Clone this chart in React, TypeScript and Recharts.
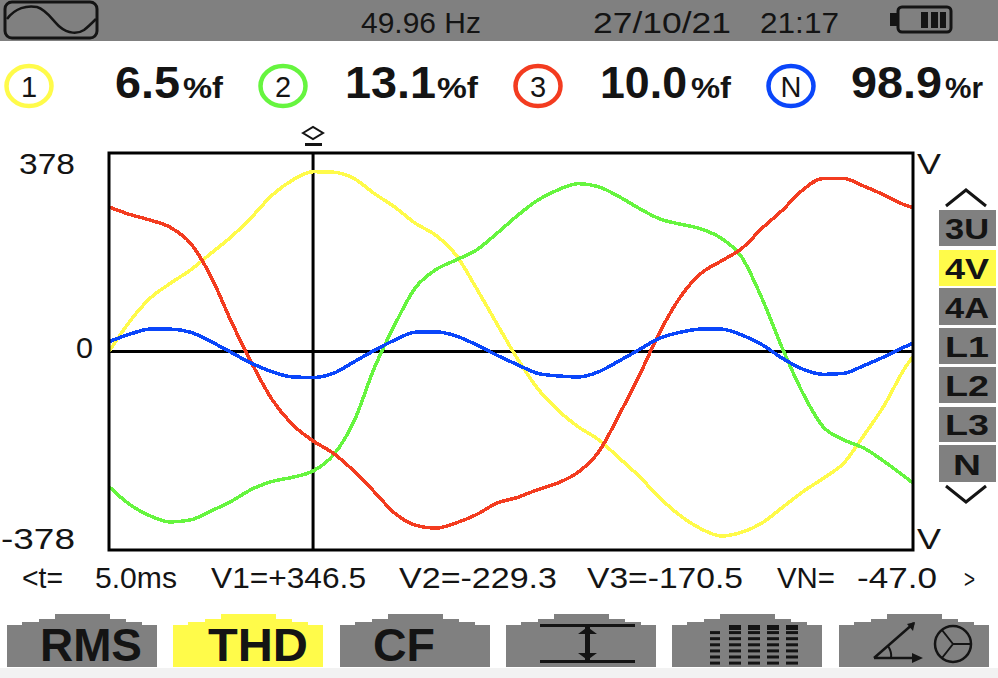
import { LineChart, Line, XAxis, YAxis, ReferenceLine } from 'recharts';

// time in ms, one reading every 0.5 ms across the 20 ms window
const times = [0, 0.5, 1, 1.5, 2, 2.5, 3, 3.5, 4, 4.5, 5, 5.5, 6, 6.5, 7, 7.5, 8, 8.5, 9, 9.5, 10, 10.5, 11, 11.5, 12, 12.5, 13, 13.5, 14, 14.5, 15, 15.5, 16, 16.5, 17, 17.5, 18, 18.5, 19, 19.5, 19.7];
const v1 = [0, 57, 102, 131, 157, 189, 221, 259, 301, 330, 346, 345, 333, 304, 278, 247, 224, 186, 122, 54, -13, -71, -113, -145, -170, -205, -241, -282, -316, -341, -355, -348, -330, -300, -270, -244, -215, -161, -103, -32, -10];
const v2 = [-260, -294, -316, -328, -324, -307, -288, -265, -250, -242, -230, -199, -135, -32, 51, 122, 157, 176, 195, 227, 261, 291, 311, 323, 317, 298, 275, 255, 245, 236, 218, 182, 102, 6, -80, -145, -170, -186, -212, -241, -253];
const v3 = [278, 264, 253, 239, 208, 144, 57, -23, -93, -141, -172, -196, -230, -270, -311, -334, -340, -330, -314, -292, -281, -266, -253, -232, -193, -122, -45, 38, 105, 150, 174, 198, 237, 272, 311, 333, 333, 318, 301, 282, 277];
const vn = [19, 33, 43, 43, 37, 19, -2, -23, -39, -49, -50, -42, -20, 2, 22, 37, 38, 30, 13, -7, -25, -42, -47, -49, -39, -18, 4, 26, 37, 43, 43, 32, 13, -13, -34, -44, -42, -27, -10, 9, 16];

const yTicks = [-378, 0, 378];
const sideLabels = ['3U', '4V', '4A', 'L1', 'L2', 'L3', 'N'];
const tabLabels = ['RMS', 'THD', 'CF'];

const data = times.map((t, i) => ({ t, v1: v1[i], v2: v2[i], v3: v3[i], vn: vn[i] }));

const GREY = '#808080';
const YELLOW = '#FFFB4A';
const GREEN = '#66F53F';
const RED = '#F33C20';
const BLUE = '#0A46FA';
const INK = '#141414';
const FONT = '"Liberation Sans", Arial, sans-serif';

const tickPlace: Record<number, { x: number; y: number; w: number }> = {
  378: { x: 19, y: 174, w: 56 },
  0: { x: 76, y: 358, w: 17 },
  [-378]: { x: 1, y: 549, w: 74 },
};

function VoltTick({ payload }: any) {
  const value = payload.value as number;
  const place = tickPlace[value];
  return (
    <text x={place.x} y={place.y} fontFamily={FONT} fontSize={30} fill={INK} textLength={place.w} lengthAdjust="spacingAndGlyphs">
      {value}
    </text>
  );
}

function Label({ x, y, w, size, bold, anchor, children }: any) {
  return (
    <text x={x} y={y} fontFamily={FONT} fontSize={size} fontWeight={bold ? 'bold' : 'normal'} fill={INK}
      textLength={w} lengthAdjust="spacingAndGlyphs" textAnchor={anchor}>
      {children}
    </text>
  );
}

function Reading({ cx, color, id, value, vx, vw, unit, ux, uw }: any) {
  return (
    <g>
      <ellipse cx={cx} cy={86} rx={22.5} ry={20} fill="#fff" stroke={color} strokeWidth={4.5} />
      <text x={cx} y={97} textAnchor="middle" fontFamily={FONT} fontSize={29} fill={INK}>{id}</text>
      <Label x={vx} y={98} w={vw} size={44} bold>{value}</Label>
      <Label x={ux} y={98} w={uw} size={30} bold>{unit}</Label>
    </g>
  );
}

function Tab({ x, fill, children }: any) {
  const pts = [[0, 53], [0, 11], [15, 11], [15, 8], [32, 8], [32, 5], [48, 5], [48, 0], [103, 0], [103, 5], [119, 5], [119, 8], [135, 8], [135, 11], [150, 11], [150, 53]];
  return (
    <g transform={`translate(${x} 614)`}>
      <polygon points={pts.map((p) => p.join(',')).join(' ')} fill={fill} />
      {children}
    </g>
  );
}

function Chrome() {
  const sideY = [[210, 246], [250, 286], [288, 325], [328, 364], [367, 403], [407, 442], [445, 482]];
  return (
    <svg width={998} height={678} style={{ position: 'absolute', left: 0, top: 0, pointerEvents: 'none' }}>
      {/* status bar */}
      <rect x={0} y={0} width={998} height={41} fill={GREY} />
      <rect x={5} y={2} width={92} height={36} rx={7} fill="none" stroke={INK} strokeWidth={3} />
      <path d="M7 19 C 15 8 27 5 37 7 C 47 10 52 20 60 27 C 68 34 78 34 84 30 C 88 27 92 23 96 19" fill="none" stroke={INK} strokeWidth={2.5} />
      <Label x={361} y={33} w={120} size={30}>49.96 Hz</Label>
      <Label x={593} y={33} w={138} size={30}>27/10/21</Label>
      <Label x={760} y={33} w={79} size={30}>21:17</Label>
      <rect x={898} y={7} width={53} height={25} rx={4} fill="none" stroke={INK} strokeWidth={3} />
      <rect x={890} y={13} width={7} height={13} fill={INK} />
      <rect x={921} y={12} width={7} height={16} fill={INK} />
      <rect x={931} y={12} width={7} height={16} fill={INK} />
      <rect x={940} y={12} width={6} height={16} fill={INK} />

      {/* channel readings */}
      <Reading cx={29} color={YELLOW} id="1" value="6.5" vx={115} vw={65} unit="%f" ux={183} uw={40} />
      <Reading cx={283} color={GREEN} id="2" value="13.1" vx={345} vw={91} unit="%f" ux={437} uw={41} />
      <Reading cx={538} color={RED} id="3" value="10.0" vx={600} vw={87} unit="%f" ux={691} uw={40} />
      <Reading cx={791} color={BLUE} id="N" value="98.9" vx={851} vw={91} unit="%r" ux={945} uw={38} />

      {/* cursor marker */}
      <path d="M303 133 L313 127 L323 133 L313 139 Z" fill="none" stroke={INK} strokeWidth={2} />
      <rect x={305} y={143} width={17} height={3} fill={INK} />

      {/* plot frame */}
      <rect x={109} y={153} width={804} height={397} fill="none" stroke="#000" strokeWidth={3} />
      <Label x={917} y={174} w={24} size={30}>V</Label>
      <Label x={917} y={549} w={24} size={30}>V</Label>

      {/* channel selector */}
      <path d="M946 206 L966 190 L986 206" fill="none" stroke={INK} strokeWidth={3} />
      <path d="M946 486 L966 502 L986 486" fill="none" stroke={INK} strokeWidth={3} />
      {sideLabels.map((label, i) => (
        <g key={label}>
          <rect x={939} y={sideY[i][0]} width={57} height={sideY[i][1] - sideY[i][0]} fill={label === '4V' ? YELLOW : GREY} />
          <text x={967} y={sideY[i][1] - 7} textAnchor="middle" fontFamily={FONT} fontWeight="bold" fontSize={30} fill={INK}
            textLength={label === 'N' ? 28 : 44} lengthAdjust="spacingAndGlyphs">{label}</text>
        </g>
      ))}

      {/* cursor readout */}
      <Label x={22} y={588} w={41} size={30}>{'<t='}</Label>
      <Label x={95} y={588} w={82} size={30}>5.0ms</Label>
      <Label x={211} y={588} w={155} size={30}>V1=+346.5</Label>
      <Label x={399} y={588} w={158} size={30}>V2=-229.3</Label>
      <Label x={587} y={588} w={156} size={30}>V3=-170.5</Label>
      <Label x={777} y={588} w={58} size={30}>VN=</Label>
      <Label x={857} y={588} w={80} size={30}>-47.0</Label>
      <Label x={964} y={588} w={11} size={26}>{'>'}</Label>

      {/* function tabs */}
      <rect x={0} y={668} width={998} height={10} fill="#F2F2F2" />
      <Tab x={7} fill={GREY}><Label x={33} y={47} w={102} size={46} bold>{tabLabels[0]}</Label></Tab>
      <Tab x={173} fill={YELLOW}><Label x={35} y={47} w={100} size={46} bold>{tabLabels[1]}</Label></Tab>
      <Tab x={340} fill={GREY}><Label x={33} y={47} w={62} size={46} bold>{tabLabels[2]}</Label></Tab>
      <Tab x={506} fill={GREY}>
        <rect x={34} y={10} width={95} height={3} fill={INK} />
        <rect x={34} y={46} width={95} height={3} fill={INK} />
        <rect x={79} y={13} width={5} height={33} fill={INK} />
        <path d="M72 20 L91 20 L81.5 13 Z M72 39 L91 39 L81.5 46 Z" fill={INK} />
      </Tab>
      <Tab x={672} fill={GREY}>
        {[38, 57, 76, 95, 114].map((bx, col) =>
          [0, 1, 2, 3, 4, 5, 6].map((row) =>
            col === 0 && row === 0 ? null : (
              <rect key={`${col}-${row}`} x={bx} y={11 + row * 6.1} width={col === 0 ? 10 : 12} height={row === 0 ? 5 : 3} fill={INK} />
            )
          )
        )}
      </Tab>
      <Tab x={839} fill={GREY}>
        <path d="M35 44 L75 9 M35 44 L78 44" fill="none" stroke={INK} strokeWidth={2.5} />
        <path d="M68 10 L76 8 L74 17 Z M73 39 L84 44 L73 49 Z" fill={INK} />
        <path d="M52 44 C 53 38 51 35 49 32" fill="none" stroke={INK} strokeWidth={2} />
        <circle cx={114} cy={30} r={18} fill="none" stroke={INK} strokeWidth={2.5} />
        <path d="M114 30 L132 30 M114 30 L103 16 M114 30 L103 44" fill="none" stroke={INK} strokeWidth={2} />
      </Tab>
    </svg>
  );
}

export default function App() {
  return (
    <div style={{ position: 'absolute', left: 0, top: 0, width: 998, height: 678, background: '#fff', overflow: 'hidden' }}>
      <LineChart width={998} height={678} data={data} margin={{ top: 153, right: 85, bottom: 128, left: 0 }}>
        <XAxis dataKey="t" type="number" domain={[0, 19.7]} hide />
        <YAxis type="number" width={109} domain={[-382, 382]} ticks={yTicks} axisLine={false} tickLine={false} tick={<VoltTick />} interval={0} />
        <ReferenceLine y={0} stroke="#000" strokeWidth={3} />
        <ReferenceLine x={5} stroke="#000" strokeWidth={3} />
        <Line dataKey="v1" type="monotone" stroke={YELLOW} strokeWidth={3.5} dot={false} isAnimationActive={false} style={{ shapeRendering: 'crispEdges' }} />
        <Line dataKey="v2" type="monotone" stroke={GREEN} strokeWidth={3.5} dot={false} isAnimationActive={false} style={{ shapeRendering: 'crispEdges' }} />
        <Line dataKey="v3" type="monotone" stroke={RED} strokeWidth={3.5} dot={false} isAnimationActive={false} style={{ shapeRendering: 'crispEdges' }} />
        <Line dataKey="vn" type="monotone" stroke={BLUE} strokeWidth={3.5} dot={false} isAnimationActive={false} style={{ shapeRendering: 'crispEdges' }} />
      </LineChart>
      <Chrome />
    </div>
  );
}
